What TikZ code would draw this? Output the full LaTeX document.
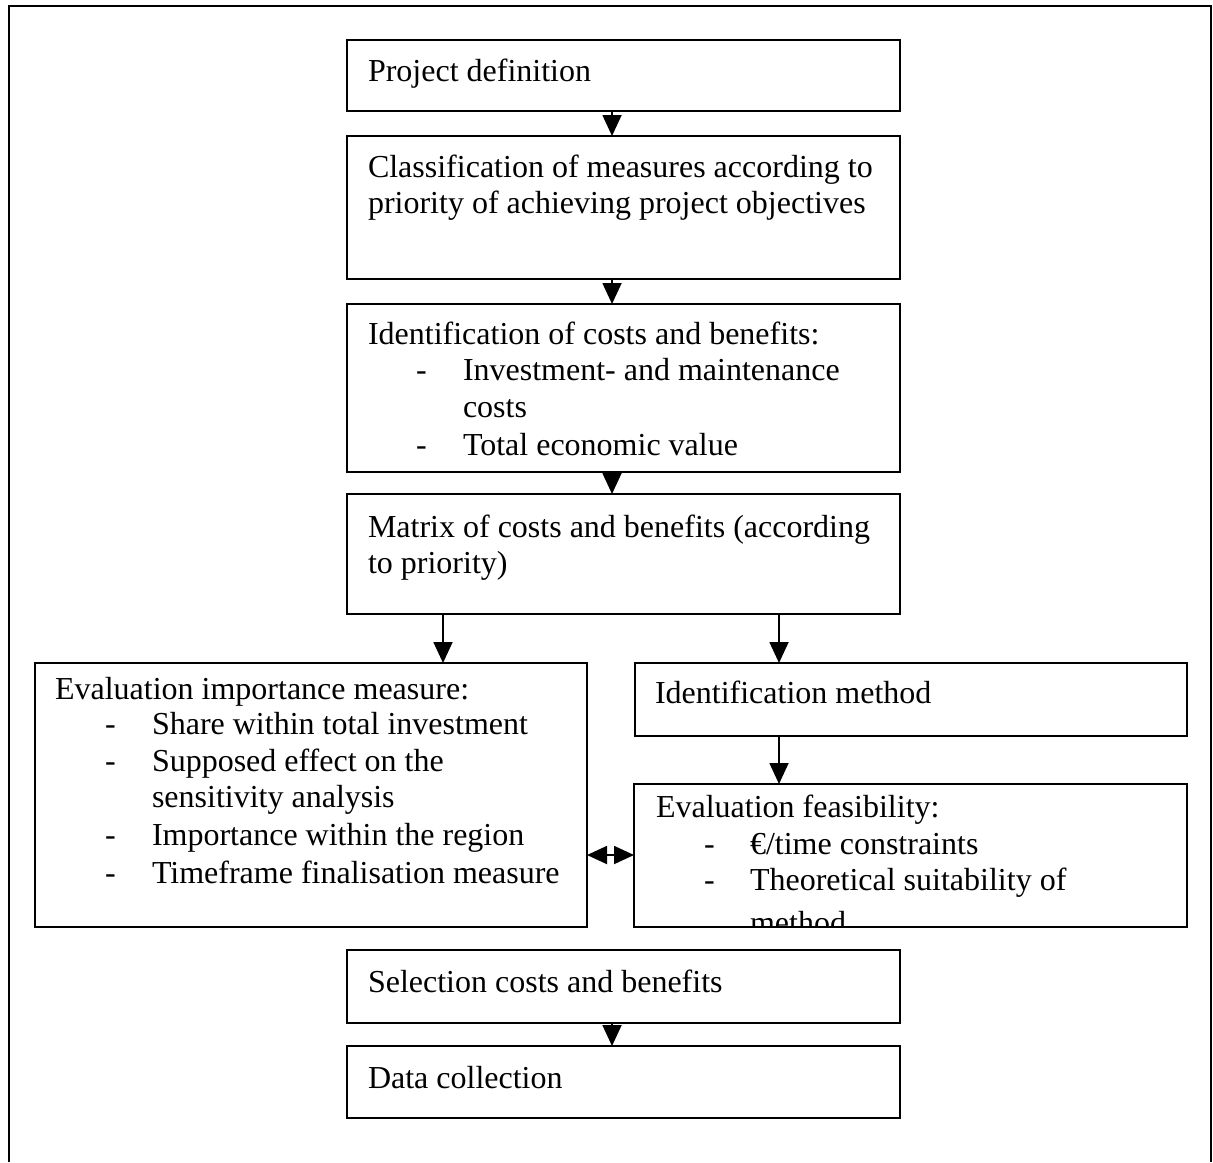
\documentclass[tikz,border=0pt]{standalone}
\usepackage{fontspec}
\setmainfont{Liberation Serif}
\usetikzlibrary{arrows.meta}
\tikzset{
  box/.style={draw=black, line width=1pt, rectangle, inner sep=0pt, outer sep=0pt},
  txt/.style={anchor=base west, inner sep=0pt, outer sep=0pt, font=\fontsize{16pt}{18pt}\selectfont},
  arr/.style={line width=0.9pt, -{Triangle[length=10.5pt,width=9.5pt]}},
  darr/.style={line width=0.9pt, {Triangle[length=10pt,width=9pt]}-{Triangle[length=10pt,width=9pt]}},
  frame/.style={line width=1.3pt}
}
\begin{document}
\begin{tikzpicture}[x=0.5pt,y=-0.5pt]
\useasboundingbox (0,0) rectangle (1213,1162);
% outer frame
\coordinate (fbl) at (9,1162);
\coordinate (ftl) at (9,6);
\coordinate (ftr) at (1211,6);
\coordinate (fbr) at (1211,1162);
\draw[frame] (fbl) -- (ftl) -- (ftr) -- (fbr);

% boxes
\node[box, minimum width=276.5pt, minimum height=35.5pt] (b1) at (623.5,75.5) {};
\node[box, minimum width=276.5pt, minimum height=71.5pt] (b2) at (623.5,207.5) {};
\node[box, minimum width=276.5pt, minimum height=84pt]   (b3) at (623.5,388) {};
\node[box, minimum width=276.5pt, minimum height=60pt]   (b4) at (623.5,554) {};
\node[box, minimum width=276pt,   minimum height=132pt]  (b5) at (311,795) {};
\node[box, minimum width=276pt,   minimum height=36.5pt] (b6) at (911,699.5) {};
\node[box, minimum width=276.5pt, minimum height=71.5pt] (b7) at (910.5,855.5) {};
\node[box, minimum width=276.5pt, minimum height=36.5pt] (b8) at (623.5,986.5) {};
\node[box, minimum width=276.5pt, minimum height=36pt]   (b9) at (623.5,1082) {};

% texts
\node[txt] (t1) at (368,81) {Project definition};
\node[txt] (t2a) at (368,177) {Classification of measures according to};
\node[txt] (t2b) at (368,213) {priority of achieving project objectives};

\node[txt] (t3a) at (368,344) {Identification of costs and benefits:};
\node[txt] (t3d1) at (416,380) {-};
\node[txt] (t3b) at (463,380) {Investment- and maintenance};
\node[txt] (t3c) at (463,417) {costs};
\node[txt] (t3d2) at (416,455) {-};
\node[txt] (t3e) at (463,455) {Total economic value};

\node[txt] (t4a) at (368,537) {Matrix of costs and benefits (according};
\node[txt] (t4b) at (368,573) {to priority)};

\node[txt] (t5a) at (55,699) {Evaluation importance measure:};
\node[txt] (t5d1) at (105,734) {-};
\node[txt] (t5b) at (152,734) {Share within total investment};
\node[txt] (t5d2) at (105,771) {-};
\node[txt] (t5c) at (152,771) {Supposed effect on the};
\node[txt] (t5e) at (152,807) {sensitivity analysis};
\node[txt] (t5d3) at (105,845) {-};
\node[txt] (t5f) at (152,845) {Importance within the region};
\node[txt] (t5d4) at (105,883) {-};
\node[txt] (t5g) at (152,883) {Timeframe finalisation measure};

\node[txt] (t6) at (655,703) {Identification method};

\begin{scope}
\clip (b7.south west) rectangle (b7.north east);
\node[txt] (t7a) at (656,817) {Evaluation feasibility:};
\node[txt] (t7d1) at (704,854) {-};
\node[txt] (t7b) at (750,854) {€/time constraints};
\node[txt] (t7d2) at (704,890) {-};
\node[txt] (t7c) at (750,890) {Theoretical suitability of};
\node[txt] (t7e) at (750,933) {method};
\end{scope}

\node[txt] (t8) at (368,992) {Selection costs and benefits};
\node[txt] (t9) at (368,1088) {Data collection};

% arrow x positions
\coordinate (mx) at (612,0);
\coordinate (lx) at (443,0);
\coordinate (rx) at (779,0);
\coordinate (dy) at (0,855);

\draw[arr] (b1.south -| mx) -- (b2.north -| mx);
\draw[arr] (b2.south -| mx) -- (b3.north -| mx);
\draw[arr] (b3.south -| mx) -- (b4.north -| mx);
\draw[arr] (b4.south -| lx) -- (b5.north -| lx);
\draw[arr] (b4.south -| rx) -- (b6.north -| rx);
\draw[arr] (b6.south -| rx) -- (b7.north -| rx);
\draw[darr] (b5.east |- dy) -- (b7.west |- dy);
\draw[arr] (b8.south -| mx) -- (b9.north -| mx);
\end{tikzpicture}
\end{document}
